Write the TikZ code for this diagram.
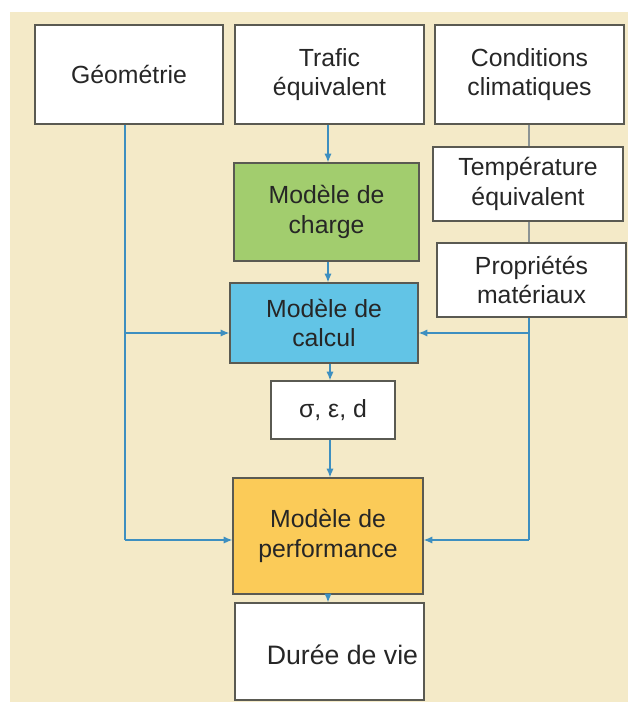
\documentclass[tikz,border=0pt]{standalone}
\usepackage{fontspec}
\setmainfont{Liberation Sans}
\usetikzlibrary{arrows.meta}
\definecolor{bg}{HTML}{F4EAC8}
\definecolor{boxline}{HTML}{5A5A52}
\definecolor{txt}{HTML}{262626}
\definecolor{lineblue}{HTML}{3D8FC0}
\definecolor{linegrey}{HTML}{8C9494}
\definecolor{cgreen}{HTML}{A2CD6E}
\definecolor{cblue}{HTML}{62C4E6}
\definecolor{corange}{HTML}{FBCB58}
\begin{document}
\begin{tikzpicture}[x=0.75pt,y=-0.75pt,
  box/.style={draw=boxline, line width=0.9pt, fill=white, inner sep=0pt, align=center,
              text=txt, font=\fontsize{18.6}{22}\selectfont},
  sz/.style 2 args={minimum width=#1*0.75pt, minimum height=#2*0.75pt},
  conn/.style={draw=lineblue, line width=1.1pt},
  greyconn/.style={draw=linegrey, line width=1.1pt},
  arr/.style={conn, -{Latex[length=6.5pt,width=5.5pt]}}]
\useasboundingbox (0,0) rectangle (628,702);
\fill[bg] (10,12) rectangle (628,702);

% top row
\node[box, sz={188}{99}] (geo) at (129,74.5) {Géométrie};
\node[box, sz={189}{99}] (traf) at (329.5,74.5) {Trafic\\équivalent};
\node[box, sz={189}{99}] (cond) at (529.5,74.5) {Conditions\\climatiques};

% right column
\node[box, sz={190}{74}] (temp) at (528,184) {Température\\équivalent};
\node[box, sz={189}{74}] (prop) at (531.5,280) {Propriétés\\matériaux};

% centre column
\node[box, sz={185}{98}, fill=cgreen] (charge) at (326.5,212) {Modèle de\\charge};
\node[box, sz={188}{80}, fill=cblue] (calc) at (324,323) {Modèle de\\calcul};
\node[box, sz={124}{58}] (sig) at (333,410) {σ, ε, d};
\node[box, sz={190}{116}, fill=corange] (perf) at (328,536) {Modèle de\\performance};
\node[box, sz={189}{97}] (duree) at (329.5,651.5) {};
\node[inner sep=0pt, text=txt, font=\fontsize{20}{24}\selectfont] (dureetxt) at (342.5,655) {Durée de vie};

% vertical flow
\coordinate (c1) at (328,124);
\draw[arr] (traf.south -| c1) -- (charge.north -| c1);
\draw[arr] (charge.south -| c1) -- (calc.north -| c1);
\coordinate (c2) at (330,363);
\draw[arr] (calc.south -| c2) -- (sig.north -| c2);
\draw[arr] (sig.south -| c2) -- (perf.north -| c2);
\draw[arr] (perf.south -| c1) -- (duree.north -| c1);

% left feed (Géométrie)
\coordinate (gtop) at (125,124);
\coordinate (gbr) at (125,333);
\coordinate (gbot) at (125,540);
\draw[conn] (geo.south -| gtop) -- (gbot);
\draw[arr] (gbr) -- (gbr -| calc.west);
\draw[arr] (gbot) -- (gbot -| perf.west);

% right chain (conditions)
\coordinate (rx) at (529,124);
\draw[greyconn] (cond.south -| rx) -- (temp.north -| rx);
\draw[greyconn] (temp.south -| rx) -- (prop.north -| rx);
\coordinate (rbr) at (529,333);
\coordinate (rbot) at (529,540);
\draw[conn] (prop.south -| rx) -- (rbot);
\draw[arr] (rbr) -- (rbr -| calc.east);
\draw[arr] (rbot) -- (rbot -| perf.east);
\end{tikzpicture}
\end{document}
